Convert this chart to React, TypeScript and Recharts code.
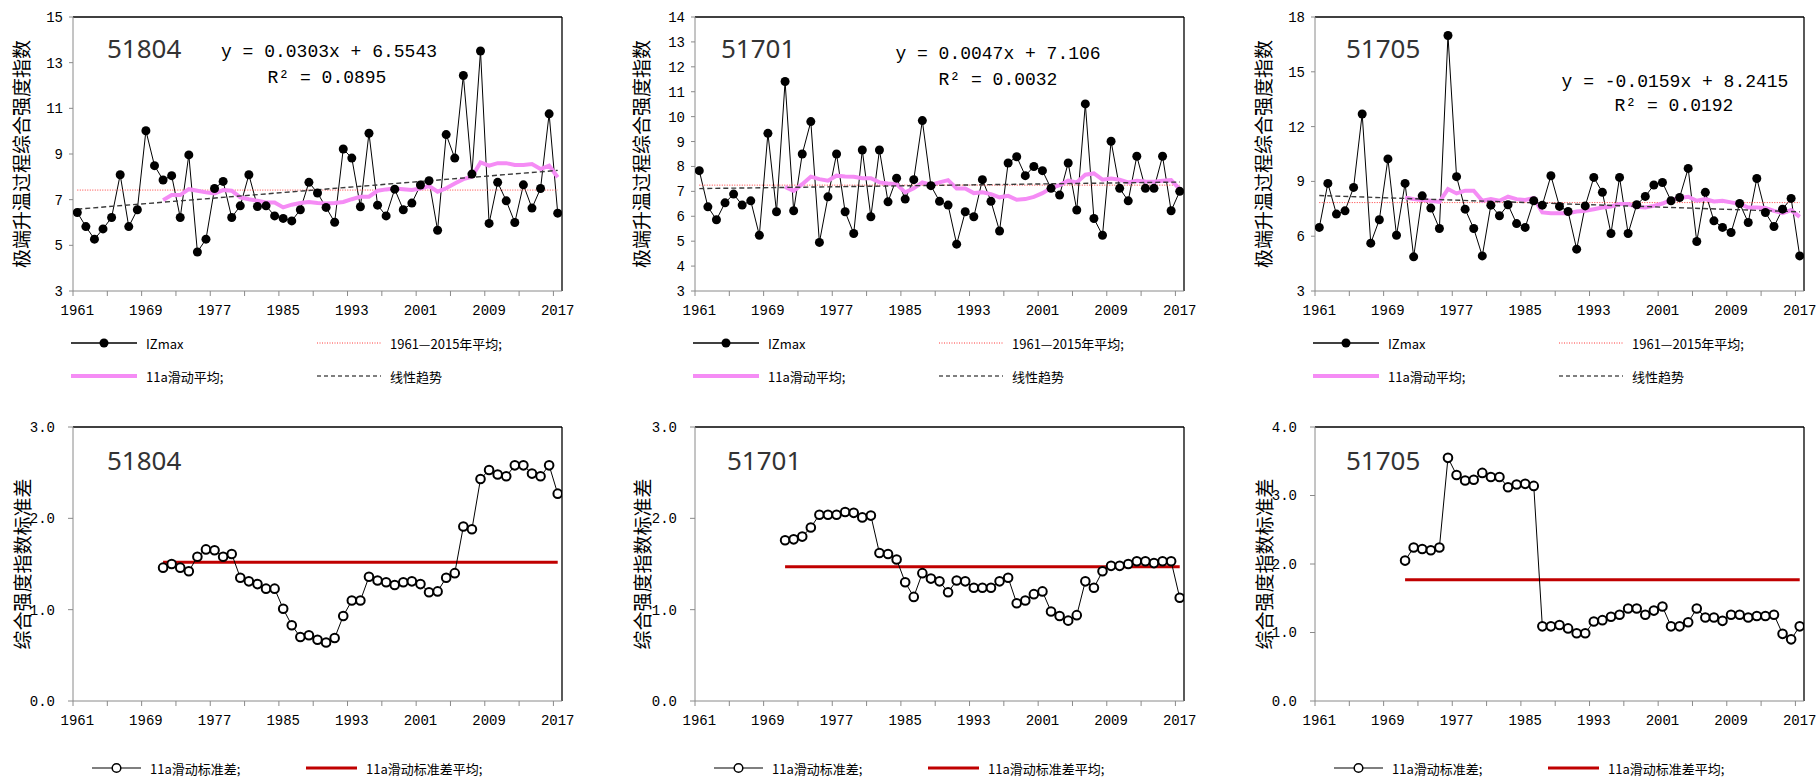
import React from 'react';
import { LineChart, Line, XAxis, YAxis, ReferenceLine } from 'recharts';

// years of the record
const years = Array.from({ length: 57 }, (_, i) => 1961 + i);
const stdYears = years.slice(10); // 11a window, 1971-2017

// IZmax per station
const iz51804 = [
  6.44, 5.82, 5.27, 5.72, 6.22, 8.09, 5.82, 6.56, 10.02, 8.49,
  7.86, 8.05, 6.22, 8.96, 4.71, 5.27, 7.49, 7.8, 6.22, 6.73,
  8.09, 6.7, 6.73, 6.29, 6.18, 6.07, 6.56, 7.76, 7.29, 6.66,
  6.01, 9.22, 8.82, 6.69, 9.91, 6.76, 6.29, 7.46, 6.56, 6.85,
  7.64, 7.83, 5.66, 9.85, 8.82, 12.44, 8.12, 13.51, 5.96, 7.76,
  6.95, 6.0, 7.65, 6.63, 7.49, 10.76, 6.41,
];
const iz51701 = [
  7.83, 6.38, 5.86, 6.54, 6.89, 6.45, 6.62, 5.24, 9.33, 6.18,
  11.41, 6.22, 8.5, 9.8, 4.95, 6.78, 8.5, 6.18, 5.31, 8.66,
  5.98, 8.66, 6.58, 7.53, 6.69, 7.47, 9.84, 7.23, 6.6, 6.45,
  4.88, 6.18, 5.98, 7.47, 6.6, 5.41, 8.14, 8.39, 7.63, 8.0,
  7.83, 7.12, 6.85, 8.14, 6.25, 10.51, 5.91, 5.24, 9.01, 7.12,
  6.62, 8.41, 7.12, 7.12, 8.41, 6.22, 7.0,
];
const iz51705 = [
  6.48, 8.89, 7.21, 7.39, 8.67, 12.69, 5.62, 6.9, 10.23, 6.05,
  8.89, 4.87, 8.21, 7.54, 6.42, 16.99, 9.26, 7.48, 6.42, 4.92,
  7.7, 7.12, 7.72, 6.69, 6.48, 7.94, 7.7, 9.31, 7.63, 7.35,
  5.29, 7.66, 9.22, 8.4, 6.15, 9.22, 6.15, 7.72, 8.18, 8.8,
  8.94, 7.94, 8.12, 9.71, 5.71, 8.4, 6.84, 6.48, 6.2, 7.79,
  6.75, 9.16, 7.3, 6.53, 7.48, 8.07, 4.92,
];

// 11a moving average, 1971-2017
const ma51804 = [
  6.98, 7.2, 7.2, 7.46, 7.39, 7.32, 7.27, 7.42, 7.39, 7.1,
  7.02, 6.95, 6.88, 6.88, 6.66, 6.78, 6.85, 6.9, 6.85, 6.83,
  6.85, 6.9, 7.02, 7.13, 7.13, 7.39, 7.45, 7.49, 7.46, 7.42,
  7.49, 7.6, 7.35, 7.5, 7.71, 7.9, 8.0, 8.63, 8.49, 8.6,
  8.6, 8.52, 8.52, 8.56, 8.34, 8.49, 7.98,
];
const ma51701 = [
  7.18, 7.02, 7.29, 7.59, 7.49, 7.43, 7.63, 7.6, 7.59, 7.53,
  7.53, 7.36, 7.32, 7.29, 6.96, 7.12, 7.36, 7.27, 7.36, 7.45,
  7.12, 7.12, 6.93, 6.96, 6.89, 6.76, 6.82, 6.66, 6.69, 6.78,
  6.93, 7.13, 7.25, 7.43, 7.36, 7.67, 7.72, 7.47, 7.52, 7.47,
  7.36, 7.43, 7.4, 7.39, 7.43, 7.45, 7.09,
];
const ma51705 = [
  8.12, 8.03, 7.98, 7.94, 7.88, 8.58, 8.34, 8.49, 8.49, 7.94,
  8.03, 7.94, 8.16, 8.03, 7.98, 8.09, 7.3, 7.26, 7.26, 7.26,
  7.35, 7.39, 7.48, 7.57, 7.63, 7.76, 7.76, 7.61, 7.57, 7.66,
  7.79, 7.99, 8.09, 8.16, 7.94, 8.03, 7.9, 7.94, 7.85, 7.76,
  7.57, 7.57, 7.54, 7.39, 7.26, 7.43, 7.06,
];

// 1961-2015 mean and linear trend ends (1961, 2017)
const avgTop = [7.42, 7.25, 7.84];
const trendTop = [[6.585, 8.282], [7.111, 7.374], [8.226, 7.335]];
const equations = [
  ['y = 0.0303x + 6.5543', 'R² = 0.0895'],
  ['y = 0.0047x + 7.106', 'R² = 0.0032'],
  ['y = -0.0159x + 8.2415', 'R² = 0.0192'],
];

// 11a moving standard deviation, 1971-2017
const sd51804 = [
  1.46, 1.5, 1.46, 1.42, 1.58, 1.66, 1.65, 1.58, 1.61, 1.35,
  1.31, 1.28, 1.23, 1.23, 1.01, 0.83, 0.7, 0.72, 0.67, 0.64,
  0.69, 0.93, 1.1, 1.1, 1.36, 1.32, 1.3, 1.27, 1.3, 1.31,
  1.28, 1.19, 1.2, 1.35, 1.4, 1.91, 1.88, 2.43, 2.53, 2.48,
  2.46, 2.58, 2.58, 2.49, 2.46, 2.58, 2.27,
];
const sd51701 = [
  1.76, 1.77, 1.8, 1.9, 2.04, 2.04, 2.04, 2.07, 2.06, 2.01,
  2.03, 1.62, 1.61, 1.55, 1.3, 1.14, 1.4, 1.34, 1.31, 1.19,
  1.32, 1.31, 1.24, 1.24, 1.24, 1.31, 1.35, 1.07, 1.1, 1.17,
  1.2, 0.98, 0.93, 0.88, 0.94, 1.31, 1.24, 1.42, 1.48, 1.48,
  1.5, 1.53, 1.53, 1.51, 1.53, 1.53, 1.13,
];
const sd51705 = [
  2.05, 2.24, 2.22, 2.2, 2.24, 3.55, 3.3, 3.22, 3.23, 3.33,
  3.27, 3.27, 3.12, 3.16, 3.17, 3.14, 1.09, 1.09, 1.11, 1.06,
  0.99, 0.99, 1.16, 1.18, 1.23, 1.26, 1.35, 1.35, 1.26, 1.32,
  1.38, 1.09, 1.09, 1.15, 1.35, 1.22, 1.22, 1.17, 1.26, 1.26,
  1.22, 1.24, 1.24, 1.26, 0.98, 0.9, 1.09,
];
const sdMean = [1.52, 1.47, 1.77];

const stations = ['51804', '51701', '51705'];
const topTicks = [
  [3, 5, 7, 9, 11, 13, 15],
  [3, 4, 5, 6, 7, 8, 9, 10, 11, 12, 13, 14],
  [3, 6, 9, 12, 15, 18],
];
const bottomTicks = [[0, 1, 2, 3], [0, 1, 2, 3], [0, 1, 2, 3, 4]];
const boundaryTicks = Array.from({ length: 15 }, (_, i) => 1960.5 + i * 4);

const topTitle = '极端升温过程综合强度指数';
const bottomTitle = '综合强度指数标准差';

const PLOT_W = 489;
const YAXIS_W = 73;
const HALF = PLOT_W / 57 / 2;
const plotLefts = [73, 695, 1315];

const tickFont = { fontFamily: '"Liberation Mono", monospace', fontSize: 14, fill: '#000' };
const axisGray = '#8a8a8a';

const YearTick = (props: any) => {
  const { x, y, payload } = props;
  const k = Math.round(payload.value - 1960.5);
  if (k % 8 !== 0) return <g />;
  return (
    <text x={x + HALF} y={y} dy="0.71em" textAnchor="middle" {...tickFont}>
      {Math.round(payload.value + 0.5)}
    </text>
  );
};

const xAxisProps = {
  dataKey: 'year',
  type: 'number' as const,
  domain: [1960.5, 2017.5],
  ticks: boundaryTicks,
  interval: 0 as const,
  allowDataOverflow: true,
  tick: (p: any) => <YearTick {...p} />,
  tickSize: 5,
  tickMargin: 9,
  height: 30,
  axisLine: { stroke: axisGray },
  tickLine: { stroke: axisGray },
};

const VLabel = ({ x, y, text }: { x: number; y: number; text: string }) => (
  <div
    style={{
      position: 'absolute', left: x, top: y, transform: 'translate(-50%, -50%) rotate(-90deg)',
      whiteSpace: 'nowrap', fontFamily: '"Noto Sans CJK SC", sans-serif', fontSize: 19, color: '#000', lineHeight: 1,
    }}
  >
    {text}
  </div>
);

const Station = ({ x, y, text }: { x: number; y: number; text: string }) => (
  <div
    style={{
      position: 'absolute', left: x, top: y, transform: 'translateY(-50%)',
      fontFamily: '"Noto Sans", sans-serif', fontSize: 26, color: '#333', lineHeight: 1,
    }}
  >
    {text}
  </div>
);

const Mono = ({ x, y, text }: { x: number; y: number; text: string }) => (
  <div
    style={{
      position: 'absolute', left: x, top: y, transform: 'translate(-50%, -50%)', whiteSpace: 'pre',
      fontFamily: '"Liberation Mono", monospace', fontSize: 18, color: '#000', lineHeight: 1,
    }}
  >
    {text}
  </div>
);

type Sample = 'dotLine' | 'pink' | 'redDot' | 'dash' | 'circleLine' | 'redThick';

const LegendItem = ({ x, y, w, kind, label }: { x: number; y: number; w: number; kind: Sample; label: string }) => {
  let mark: React.ReactNode = null;
  if (kind === 'dotLine')
    mark = (<><line x1={0} y1={8} x2={w} y2={8} stroke="#000" strokeWidth={1.5} /><circle cx={w / 2} cy={8} r={4.5} fill="#000" /></>);
  if (kind === 'circleLine')
    mark = (<><line x1={0} y1={8} x2={w} y2={8} stroke="#000" strokeWidth={1.2} /><circle cx={w / 2} cy={8} r={4.3} fill="#fff" stroke="#000" strokeWidth={1.5} /></>);
  if (kind === 'pink') mark = <line x1={0} y1={8} x2={w} y2={8} stroke="#f58cf5" strokeWidth={4} />;
  if (kind === 'redDot') mark = <line x1={0} y1={8} x2={w} y2={8} stroke="#ff3b3b" strokeWidth={1} strokeDasharray="1 1.5" />;
  if (kind === 'dash') mark = <line x1={0} y1={8} x2={w} y2={8} stroke="#000" strokeWidth={1.2} strokeDasharray="4 3" />;
  if (kind === 'redThick') mark = <line x1={0} y1={8} x2={w} y2={8} stroke="#c00000" strokeWidth={3} />;
  return (
    <div style={{ position: 'absolute', left: x, top: y - 8, height: 16, display: 'flex', alignItems: 'center' }}>
      <svg width={w} height={16} style={{ display: 'block' }}>{mark}</svg>
      <span
        style={{
          marginLeft: 9, fontFamily: '"Noto Sans CJK SC", sans-serif', fontSize: 13, color: '#000',
          whiteSpace: 'nowrap', lineHeight: 1,
        }}
      >
        {label}
      </span>
    </div>
  );
};

const TopPanel = ({ idx, iz, ma }: { idx: number; iz: number[]; ma: number[] }) => {
  const ticks = topTicks[idx];
  const ymax = ticks[ticks.length - 1];
  const rows = years.map((year, i) => ({ year, iz: iz[i], ma: i >= 10 ? ma[i - 10] : null }));
  const [t0, t1] = trendTop[idx];
  return (
    <div style={{ position: 'absolute', left: plotLefts[idx] - YAXIS_W, top: 0 }}>
      <LineChart width={YAXIS_W + PLOT_W + 17} height={330} data={rows} margin={{ top: 17, right: 17, bottom: 9, left: 0 }}>
        <XAxis {...xAxisProps} />
        <YAxis
          type="number" domain={[ticks[0], ymax]} ticks={ticks} interval={0} width={YAXIS_W}
          tick={tickFont} tickSize={4} tickMargin={6}
          axisLine={{ stroke: axisGray }} tickLine={{ stroke: axisGray }}
        />
        <ReferenceLine y={ymax} stroke="#000" strokeWidth={1.3} />
        <ReferenceLine x={2017.5} stroke="#000" strokeWidth={1.3} />
        <Line dataKey="iz" stroke="#000" strokeWidth={1} isAnimationActive={false}
          dot={{ r: 4.5, fill: '#000', stroke: '#000', strokeWidth: 0 }} />
        <ReferenceLine segment={[{ x: 1961, y: avgTop[idx] }, { x: 2017, y: avgTop[idx] }]}
          stroke="#ff3b3b" strokeWidth={1} strokeDasharray="1 1.5" />
        <Line dataKey="ma" stroke="#f58cf5" strokeWidth={4} dot={false} isAnimationActive={false} />
        <ReferenceLine segment={[{ x: 1961, y: t0 }, { x: 2017, y: t1 }]}
          stroke="#3a3a3a" strokeWidth={1.4} strokeDasharray="5 3" />
      </LineChart>
    </div>
  );
};

const BottomPanel = ({ idx, sd }: { idx: number; sd: number[] }) => {
  const ticks = bottomTicks[idx];
  const ymax = ticks[ticks.length - 1];
  const rows = stdYears.map((year, i) => ({ year, sd: sd[i] }));
  return (
    <div style={{ position: 'absolute', left: plotLefts[idx] - YAXIS_W, top: 410 }}>
      <LineChart width={YAXIS_W + PLOT_W + 17} height={330} data={rows} margin={{ top: 17, right: 17, bottom: 9, left: 0 }}>
        <XAxis {...xAxisProps} />
        <YAxis
          type="number" domain={[0, ymax]} ticks={ticks} interval={0} width={YAXIS_W}
          tick={tickFont} tickSize={5} tickMargin={13} tickFormatter={(v: number) => v.toFixed(1)}
          axisLine={{ stroke: axisGray }} tickLine={{ stroke: axisGray }}
        />
        <ReferenceLine y={ymax} stroke="#000" strokeWidth={1.3} />
        <ReferenceLine x={2017.5} stroke="#000" strokeWidth={1.3} />
        <ReferenceLine segment={[{ x: 1971, y: sdMean[idx] }, { x: 2017, y: sdMean[idx] }]}
          stroke="#c00000" strokeWidth={3} />
        <Line dataKey="sd" stroke="#000" strokeWidth={1} isAnimationActive={false}
          dot={{ r: 4.3, fill: '#fff', stroke: '#000', strokeWidth: 2 }} />
      </LineChart>
    </div>
  );
};

const vlabelX = [20, 640, 1262];
const stationX = [107, 721, 1346];
const eqPos = [
  [329, 52, 327, 78],
  [998, 54, 998, 80],
  [1675, 82, 1674, 106],
];

export default function App() {
  const izs = [iz51804, iz51701, iz51705];
  const mas = [ma51804, ma51701, ma51705];
  const sds = [sd51804, sd51701, sd51705];
  return (
    <div style={{ position: 'absolute', left: 0, top: 0, width: 1816, height: 778, background: '#fff', overflow: 'hidden' }}>
      {[0, 1, 2].map((i) => (
        <React.Fragment key={i}>
          <TopPanel idx={i} iz={izs[i]} ma={mas[i]} />
          <BottomPanel idx={i} sd={sds[i]} />
          <VLabel x={vlabelX[i]} y={154} text={topTitle} />
          <VLabel x={vlabelX[i] + 1} y={564} text={bottomTitle} />
          <Station x={stationX[i]} y={48} text={stations[i]} />
          <Station x={stationX[i] + (i === 1 ? 6 : 0)} y={460} text={stations[i]} />
          <Mono x={eqPos[i][0]} y={eqPos[i][1]} text={equations[i][0]} />
          <Mono x={eqPos[i][2]} y={eqPos[i][3]} text={equations[i][1]} />
          <LegendItem x={plotLefts[i] - 2} y={343} w={66} kind="dotLine" label="IZmax" />
          <LegendItem x={plotLefts[i] + 244} y={343} w={64} kind="redDot" label="1961—2015年平均;" />
          <LegendItem x={plotLefts[i] - 2} y={376} w={66} kind="pink" label="11a滑动平均;" />
          <LegendItem x={plotLefts[i] + 244} y={376} w={64} kind="dash" label="线性趋势" />
          <LegendItem x={plotLefts[i] + 19} y={768} w={49} kind="circleLine" label="11a滑动标准差;" />
          <LegendItem x={plotLefts[i] + 233} y={768} w={51} kind="redThick" label="11a滑动标准差平均;" />
        </React.Fragment>
      ))}
    </div>
  );
}
